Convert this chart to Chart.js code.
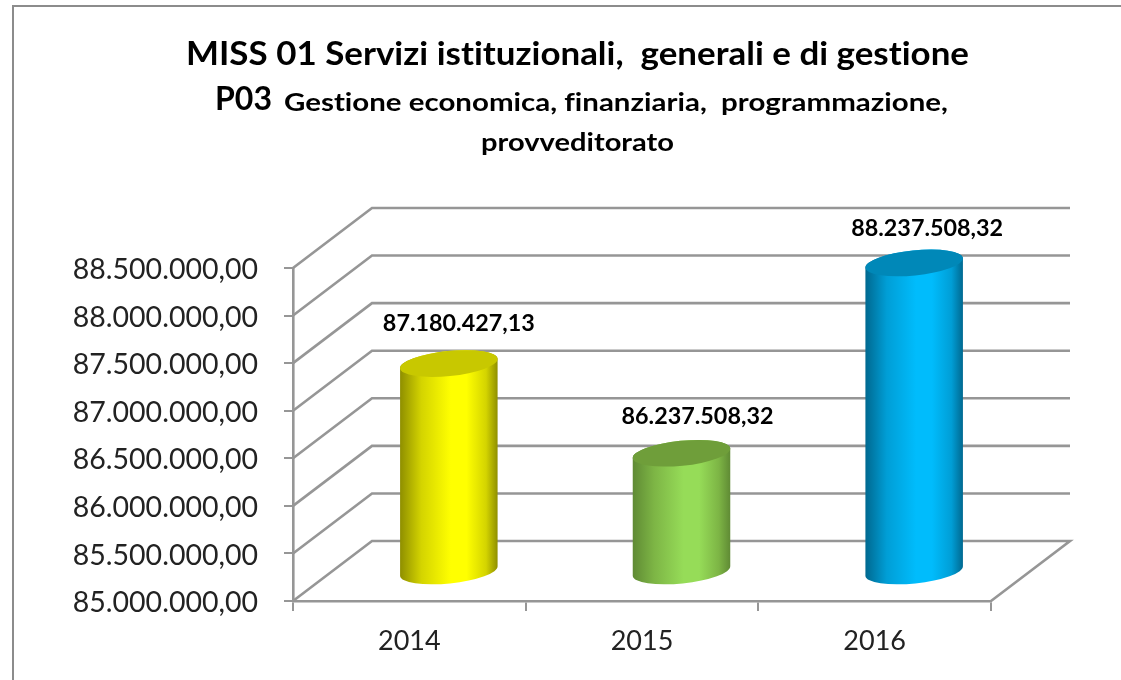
<!DOCTYPE html>
<html><head><meta charset="utf-8">
<style>html,body{margin:0;padding:0;background:#fff}#w{width:1121px;height:680px;position:relative}canvas{filter:blur(0.5px)}</style>
<script src="https://cdn.jsdelivr.net/npm/chart.js@4"></script>
</head><body><div id="w"><canvas id="c" width="1121" height="680"></canvas></div>
<script>
const categories = ['2014', '2015', '2016'];
const values = [87180427.13, 86237508.32, 88237508.32];
const bodyColors = ['#ffff00', '#96dc58', '#00bcfc'];
const midColors = ['#d4d400', '#7db545', '#009ed6'];
const edgeColors = ['#8e8e00', '#5f8a34', '#00688f'];
const capColors = ['#c8c800', '#6f9e3a', '#0088b8'];
const titleLine = 'MISS 01 Servizi istituzionali,  generali e di gestione';
const subPrefix = 'P03';
const subLine = 'Gestione economica, finanziaria,  programmazione,';
const subLine2 = 'provveditorato';
const FONT = 'Lato, Carlito, sans-serif';
const GRID = '#969696';
const DX = 79, DY = 60;
const labelShift = [[10, -43], [16, -39], [13, -37]];

function fmt(v){
  const [i, d] = v.toFixed(2).split('.');
  return i.replace(/\B(?=(\d{3})+(?!\d))/g, '.') + ',' + d;
}
const ROT = -0.1, RY = 12.5;

function fitText(ctx, text, left, baseline, width, font) {
  ctx.save();
  ctx.font = font;
  ctx.letterSpacing = '0.01px';
  ctx.textAlign = 'left';
  ctx.textBaseline = 'alphabetic';
  const w = ctx.measureText(text).width;
  ctx.translate(left, baseline);
  ctx.scale(width / w, 1);
  ctx.fillText(text, 0, 0);
  ctx.restore();
}

const cylinder = {
  id: 'cylinder',
  afterDatasetUpdate(chart) {
    chart.getDatasetMeta(0).data.forEach((el, i) => {
      el.draw = function (ctx) {
        const cx = this.x + DX / 2, top = this.y - DY / 2, bot = this.base - DY / 2 + 1, rx = this.width / 2;
        const g = ctx.createLinearGradient(cx - rx, 0, cx + rx, 0);
        g.addColorStop(0, edgeColors[i]);
        g.addColorStop(0.22, midColors[i]);
        g.addColorStop(0.52, bodyColors[i]);
        g.addColorStop(0.68, bodyColors[i]);
        g.addColorStop(0.88, midColors[i]);
        g.addColorStop(1, edgeColors[i]);
        ctx.save();
        ctx.beginPath();
        ctx.ellipse(cx, bot, rx, RY, ROT, 0, Math.PI, false);
        ctx.lineTo(cx - rx * Math.cos(ROT), top - rx * Math.sin(ROT));
        ctx.ellipse(cx, top, rx, RY, ROT, Math.PI, 2 * Math.PI, false);
        ctx.closePath();
        ctx.fillStyle = g;
        ctx.fill();
        ctx.beginPath();
        ctx.ellipse(cx, top, rx, RY, ROT, 0, 2 * Math.PI);
        ctx.fillStyle = capColors[i];
        ctx.fill();
        ctx.restore();
      };
    });
  },
  beforeDraw(chart) {
    const ctx = chart.ctx;
    ctx.save();
    ctx.fillStyle = '#fff';
    ctx.fillRect(0, 0, chart.width, chart.height);
    ctx.strokeStyle = '#8c8c8c';
    ctx.lineWidth = 2;
    ctx.beginPath();
    ctx.moveTo(13, chart.height);
    ctx.lineTo(13, 6);
    ctx.lineTo(chart.width, 6);
    ctx.stroke();
    ctx.fillStyle = '#000';
    fitText(ctx, titleLine, 186, 65, 783, 'bold 32px ' + FONT);
    fitText(ctx, subPrefix, 215, 110, 57, 'bold 32px ' + FONT);
    fitText(ctx, subLine, 284, 111, 664, 'bold 24px ' + FONT);
    fitText(ctx, subLine2, 481, 151, 193, 'bold 24px ' + FONT);
    ctx.restore();
  },
  beforeDatasetsDraw(chart) {
    const ctx = chart.ctx, a = chart.chartArea, ys = chart.scales.y;
    ctx.save();
    ctx.strokeStyle = GRID;
    ctx.lineWidth = 2.6;
    ctx.lineJoin = 'miter';
    ys.ticks.forEach(t => {
      const y = ys.getPixelForValue(t.value);
      ctx.beginPath();
      ctx.moveTo(a.left, y);
      ctx.lineTo(a.left + DX, y - DY);
      ctx.lineTo(a.right + DX, y - DY);
      if (t.value === ys.min) { ctx.lineTo(a.right, y); }
      ctx.stroke();
    });
    ctx.restore();
  },
  afterDatasetsDraw(chart) {
    const ctx = chart.ctx;
    ctx.save();
    ctx.fillStyle = '#000';
    chart.getDatasetMeta(0).data.forEach((el, i) => {
      const cx = el.x + DX / 2 + labelShift[i][0];
      fitText(ctx, fmt(values[i]), cx - 76, el.y - DY / 2 + labelShift[i][1] + 10, 152, 'bold 22px ' + FONT);
    });
    ctx.restore();
  }
};

new Chart(document.getElementById('c'), {
  type: 'bar',
  data: {
    labels: categories,
    datasets: [{ data: values, base: 85000000, backgroundColor: bodyColors, borderWidth: 0, clip: false,
      barPercentage: 1, categoryPercentage: 0.4212 }]
  },
  plugins: [cylinder],
  options: {
    responsive: false,
    animation: false,
    events: [],
    layout: { padding: { top: 268, right: 130, bottom: 0, left: 0 } },
    plugins: { legend: { display: false }, title: { display: false }, tooltip: { enabled: false } },
    scales: {
      x: {
        offset: true,
        afterFit: s => { s.height = 79; },
        grid: { offset: true, drawOnChartArea: false, drawTicks: true, tickLength: 10, tickColor: GRID, lineWidth: 2 },
        border: { color: GRID, width: 2.6 },
        ticks: { color: '#222', font: { family: FONT, size: 27 }, padding: 14, maxRotation: 0 }
      },
      y: {
        min: 85000000, max: 88500000,
        afterFit: s => { s.width = 293; },
        grid: { drawOnChartArea: false, drawTicks: true, tickLength: 9, tickColor: GRID, lineWidth: 2 },
        border: { color: GRID, width: 2.6 },
        ticks: { stepSize: 500000, color: '#222', font: { family: FONT, size: 28.5 }, padding: 26, labelOffset: 2,
          callback: v => fmt(v) }
      }
    }
  }
});
</script></body></html>
